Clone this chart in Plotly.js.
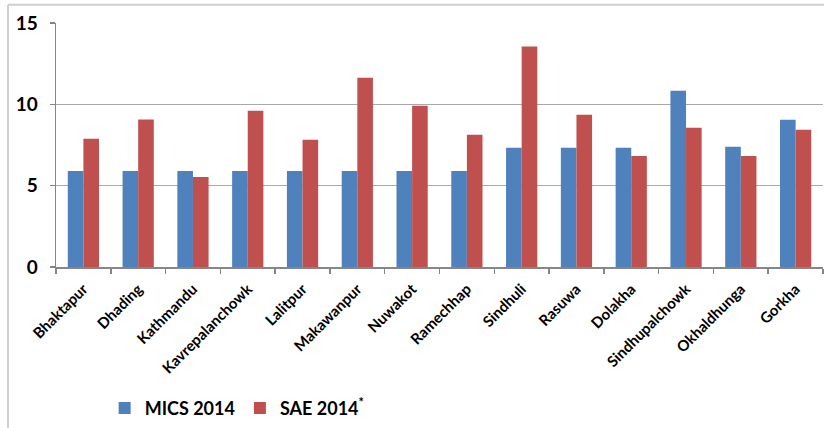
<!DOCTYPE html>
<html>
<head>
<meta charset="utf-8">
<script src="https://cdn.plot.ly/plotly-3.0.1.min.js"></script>
<style>
  html, body { margin: 0; padding: 0; background: #fff; }
  #chart { width: 824px; height: 428px; }
</style>
</head>
<body>
<div id="chart"></div>
<script>
// Districts on the horizontal axis
const districts = [
  'Bhaktapur', 'Dhading', 'Kathmandu', 'Kavrepalanchowk', 'Lalitpur',
  'Makawanpur', 'Nuwakot', 'Ramechhap', 'Sindhuli', 'Rasuwa',
  'Dolakha', 'Sindhupalchowk', 'Okhaldhunga', 'Gorkha'
];

// MICS 2014 survey estimates
const mics2014 = [5.9, 5.9, 5.9, 5.9, 5.9, 5.9, 5.9, 5.9, 7.33, 7.33, 7.33, 10.84, 7.39, 9.05];

// Small area estimates, 2014
const sae2014 = [7.89, 9.06, 5.54, 9.6, 7.82, 11.64, 9.91, 8.13, 13.55, 9.36, 6.83, 8.56, 6.83, 8.44];

const yTicks = [0, 5, 10, 15];

const boldFont = 'Lato, "Open Sans", sans-serif';

const traces = [
  {
    type: 'bar',
    name: 'MICS 2014',
    x: districts,
    y: mics2014,
    marker: { color: '#4f81bd' },
    hoverinfo: 'x+y+name'
  },
  {
    type: 'bar',
    name: 'SAE 2014<sup>*</sup>',
    x: districts,
    y: sae2014,
    marker: { color: '#c0504d' },
    hoverinfo: 'x+y+name'
  }
];

const layout = {
  width: 824,
  height: 428,
  margin: { l: 56, r: 1, t: 23, b: 161 },
  paper_bgcolor: '#ffffff',
  plot_bgcolor: '#ffffff',
  barmode: 'group',
  bargap: 0.43,
  bargroupgap: 0,
  font: { family: boldFont, color: '#000000' },
  xaxis: {
    type: 'category',
    tickson: 'boundaries',
    ticks: 'outside',
    ticklen: 5,
    tickcolor: '#868686',
    tickwidth: 1.5,
    showline: true,
    linecolor: '#868686',
    linewidth: 1.5,
    showgrid: false,
    tickangle: -45,
    ticklabelstandoff: 6,
    tickfont: { family: boldFont, size: 15, weight: 'bold', color: '#000' }
  },
  yaxis: {
    range: [0, 15],
    tickvals: yTicks,
    ticktext: yTicks.map(String),
    ticks: 'outside',
    ticklen: 5,
    tickcolor: '#868686',
    tickwidth: 1.5,
    showline: true,
    linecolor: '#868686',
    linewidth: 1.5,
    showgrid: true,
    gridcolor: '#a9a9a9',
    gridwidth: 1.5,
    zeroline: false,
    ticklabelstandoff: 8,
    tickfont: { family: boldFont, size: 19, weight: 'bold', color: '#000' }
  },
  showlegend: true,
  legend: {
    orientation: 'h',
    xref: 'container',
    yref: 'container',
    x: 0.127,
    y: 0.046,
    xanchor: 'left',
    yanchor: 'middle',
    font: { family: boldFont, size: 18, weight: 'bold', color: '#000' },
    itemwidth: 30,
    tracegroupgap: 0,
    bgcolor: 'rgba(0,0,0,0)'
  },
  shapes: [
    // chart-area frame, left and top edges
    {
      type: 'line', xref: 'paper', yref: 'paper',
      x0: -0.0626, x1: -0.0626, y0: -0.7, y1: 1.075,
      line: { color: '#cfcfcf', width: 2 }
    },
    {
      type: 'line', xref: 'paper', yref: 'paper',
      x0: -0.0626, x1: 1.01, y0: 1.075, y1: 1.075,
      line: { color: '#cfcfcf', width: 2 }
    }
  ]
};

Plotly.newPlot('chart', traces, layout, { displayModeBar: false, staticPlot: true });
</script>
</body>
</html>
